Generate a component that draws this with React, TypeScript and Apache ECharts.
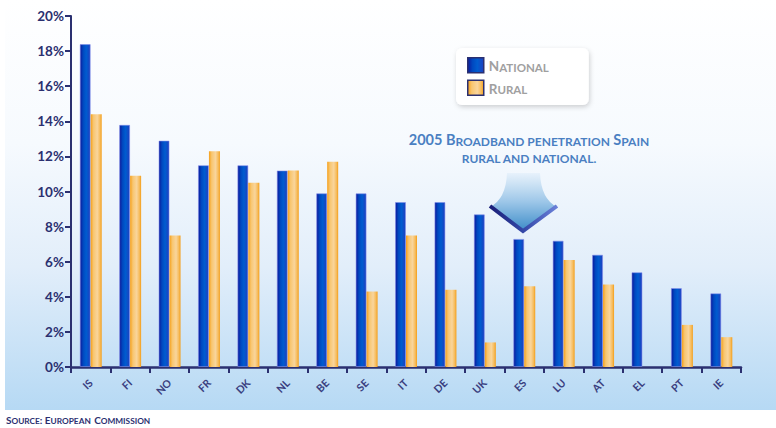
import React, { useEffect, useRef } from "react";
import * as echarts from "echarts";

const categories = ["IS", "FI", "NO", "FR", "DK", "NL", "BE", "SE", "IT", "DE", "UK", "ES", "LU", "AT", "EL", "PT", "IE"];
const national = [18.4, 13.8, 12.9, 11.5, 11.5, 11.2, 9.9, 9.9, 9.4, 9.4, 8.7, 7.3, 7.2, 6.4, 5.4, 4.5, 4.2];
const rural = [14.4, 10.9, 7.5, 12.3, 10.5, 11.2, 11.7, 4.3, 7.5, 4.4, 1.4, 4.6, 6.1, 4.7, null, 2.4, 1.7];
const seriesNames = ["National", "Rural"];

const FONT = "Lato, 'Open Sans', sans-serif";
const NAVY = "#2b3070";

export default function App() {
  const ref = useRef<HTMLDivElement>(null);

  useEffect(() => {
    if (!ref.current) return;
    const chart = echarts.init(ref.current, null, { renderer: "svg" });

    echarts.graphic.registerShape(
      "arrowBody",
      echarts.graphic.extendPath(
        "M507,173 L540,173 Q541,199 557,207 L523,231 L490,207 Q506,199 507,173 Z",
        {}
      )
    );

    const natGrad = new echarts.graphic.LinearGradient(0, 0, 1, 0, [
      { offset: 0, color: "#0c1a9c" },
      { offset: 0.3, color: "#0048c0" },
      { offset: 0.6, color: "#005ccf" },
      { offset: 1, color: "#1d40c0" },
    ]);
    const rurGrad = new echarts.graphic.LinearGradient(0, 0, 1, 0, [
      { offset: 0, color: "#f6a01a" },
      { offset: 0.25, color: "#f8c670" },
      { offset: 0.6, color: "#f9d59c" },
      { offset: 0.85, color: "#f6bb5a" },
      { offset: 1, color: "#f49d18" },
    ]);

    const rich = (cap: number, small: number, color: string) => ({
      c: { fontSize: cap, fontWeight: "bold", color, fontFamily: FONT, verticalAlign: "bottom", lineHeight: cap + 2 },
      s: { fontSize: small, fontWeight: "bold", color, fontFamily: FONT, verticalAlign: "bottom", lineHeight: cap + 2 },
    });

    chart.setOption({
      animation: false,
      grid: { left: 71, right: 35, top: 16, bottom: 61 },
      legend: {
        orient: "vertical",
        left: 456,
        top: 48,
        padding: [9, 40, 9, 11],
        itemGap: 6,
        itemWidth: 16,
        itemHeight: 15,
        backgroundColor: "#ffffff",
        borderRadius: 6,
        shadowBlur: 5,
        shadowColor: "rgba(0,0,0,0.18)",
        shadowOffsetX: 1,
        shadowOffsetY: 2,
        icon: "rect",
        data: [
          { name: seriesNames[0], itemStyle: { color: natGrad, borderColor: NAVY, borderWidth: 1.5 } },
          { name: seriesNames[1], itemStyle: { color: rurGrad, borderColor: NAVY, borderWidth: 1.5 } },
        ],
        formatter: (name: string) => `{c|${name.charAt(0)}}{s|${name.slice(1).toUpperCase()}}`,
        textStyle: { rich: rich(13.5, 11.5, "#a0a0a0") },
      },
      xAxis: {
        type: "category",
        data: categories,
        axisLine: { lineStyle: { color: NAVY, width: 2.5 } },
        axisTick: { show: true, length: 6, lineStyle: { color: NAVY, width: 2 } },
        axisLabel: {
          rotate: 45,
          interval: 0,
          margin: 14,
          color: "#3a3f80",
          fontSize: 10.5,
          fontWeight: "bold",
          fontFamily: FONT,
        },
      },
      yAxis: {
        type: "value",
        min: 0,
        max: 20,
        interval: 2,
        splitLine: { show: false },
        axisLine: { show: true, lineStyle: { color: NAVY, width: 2 } },
        axisTick: { show: true, length: 6, lineStyle: { color: NAVY, width: 2 } },
        axisLabel: {
          formatter: "{value}%",
          color: NAVY,
          fontSize: 13.5,
          fontWeight: "bold",
          fontFamily: FONT,
          margin: 7,
        },
      },
      series: [
        {
          name: seriesNames[0],
          type: "bar",
          data: national,
          barWidth: 11,
          barGap: "0%",
          itemStyle: { color: natGrad, borderColor: "rgba(130,140,235,0.55)", borderWidth: 1 },
        },
        {
          name: seriesNames[1],
          type: "bar",
          data: rural,
          barWidth: 11,
          barGap: "0%",
          itemStyle: { color: rurGrad },
        },
      ],
      graphic: [
        {
          type: "rect",
          z: -10,
          silent: true,
          shape: { x: 5, y: 0, width: 771, height: 410 },
          style: {
            fill: new echarts.graphic.LinearGradient(0, 0, 0, 1, [
              { offset: 0, color: "#ffffff" },
              { offset: 0.35, color: "#f6fafe" },
              { offset: 0.65, color: "#e2eefa" },
              { offset: 1, color: "#b6d9f4" },
            ]),
          },
        },
        {
          type: "arrowBody",
          x: 0,
          y: 0,
          silent: true,
          style: {
            fill: new echarts.graphic.LinearGradient(0, 0, 0, 1, [
              { offset: 0, color: "rgba(230,241,251,0.9)" },
              { offset: 0.5, color: "#9cc6e8" },
              { offset: 1, color: "#3c8cc8" },
            ]),
          },
        },
        {
          type: "polyline",
          silent: true,
          shape: { points: [[490, 206], [523, 231], [557, 206]] },
          style: {
            fill: "none",
            lineWidth: 4,
            stroke: new echarts.graphic.LinearGradient(0, 0, 1, 0, [
              { offset: 0, color: "#1a1f78" },
              { offset: 0.5, color: "#3448a8" },
              { offset: 1, color: "#6a80d8" },
            ]),
          },
        },
        {
          type: "text",
          x: 529,
          y: 130,
          silent: true,
          style: {
            text: "{c|2005 B}{s|ROADBAND PENETRATION} {c|S}{s|PAIN}\n{s|RURAL AND NATIONAL.}",
            align: "center",
            verticalAlign: "top",
            rich: {
              c: { fontSize: 14.5, fontWeight: "bold", fill: "#4a7fc2", fontFamily: FONT, verticalAlign: "bottom", lineHeight: 17 },
              s: { fontSize: 12, fontWeight: "bold", fill: "#4a7fc2", fontFamily: FONT, verticalAlign: "bottom", lineHeight: 17 },
            },
          },
        },
        {
          type: "text",
          x: 6,
          y: 413,
          silent: true,
          style: {
            text: "{c|S}{s|OURCE}{c|: E}{s|UROPEAN} {c|C}{s|OMMISSION}",
            align: "left",
            verticalAlign: "top",
            rich: {
              c: { fontSize: 10, fontWeight: "bold", fill: NAVY, fontFamily: FONT, verticalAlign: "bottom", lineHeight: 12 },
              s: { fontSize: 8.3, fontWeight: "bold", fill: NAVY, fontFamily: FONT, verticalAlign: "bottom", lineHeight: 12 },
            },
          },
        },
      ],
    });

    return () => chart.dispose();
  }, []);

  return (
    <div
      ref={ref}
      style={{ position: "fixed", left: 0, top: 0, width: 776, height: 428, background: "#ffffff" }}
    />
  );
}
